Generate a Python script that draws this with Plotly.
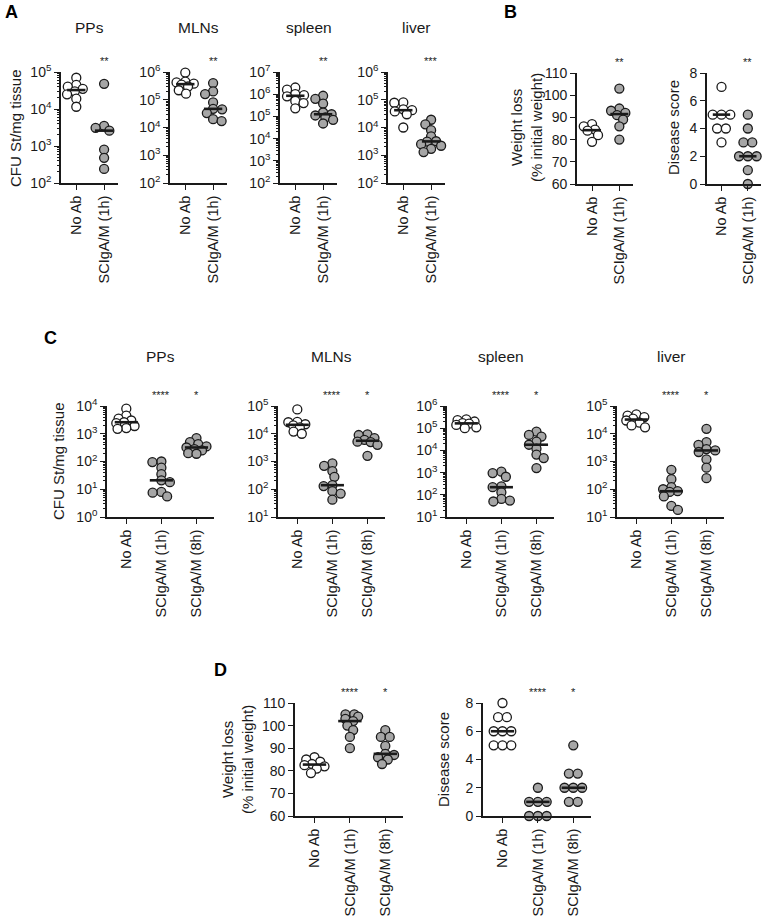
import numpy as np
import plotly.graph_objects as go

FIG_W, FIG_H = 765, 918
FONT = "Liberation Sans, Arial, sans-serif"
INK = "#1a1a1a"
GREY = "#a6a6a6"

cats2 = ["No Ab", "SCIgA/M (1h)"]
cats3 = ["No Ab", "SCIgA/M (1h)", "SCIgA/M (8h)"]

# ---------------- Panel A (CFU St/mg tissue) ----------------
a_pps_noab = [70000, 45000, 40000, 35000, 30000, 25000, 19000, 11500]
a_pps_sc1 = [48000, 3500, 3100, 2600, 800, 480, 240]
a_mln_noab = [950000, 450000, 420000, 380000, 350000, 300000, 220000, 165000]
a_mln_sc1 = [400000, 200000, 160000, 80000, 47000, 45000, 33000, 20000, 17000]
a_spl_noab = [2000000, 1600000, 1000000, 900000, 800000, 500000, 400000, 230000]
a_spl_sc1 = [850000, 620000, 380000, 150000, 125000, 110000, 90000, 70000, 48000]
a_liv_noab = [80000, 78000, 45000, 42000, 38000, 30000, 10000]
a_liv_sc1 = [19000, 13000, 8000, 4800, 3200, 3100, 2500, 2200, 1700, 1300]

# ---------------- Panel B ----------------
b_wt_noab = [87, 86, 84.5, 84, 82, 79]
b_wt_sc1 = [103, 94, 93, 92, 91, 89, 86, 80]
b_ds_noab = [7, 5, 5, 5, 4, 4, 3]
b_ds_sc1 = [5, 4, 3, 3, 2, 2, 2, 1, 0]

# ---------------- Panel C (CFU St/mg tissue) ----------------
c_pps_noab = [8000, 4500, 3500, 3000, 2600, 2400, 1900, 1600, 1500]
c_pps_sc1 = [100, 95, 60, 35, 21, 18, 8, 7.5, 5.5]
c_pps_sc8 = [700, 500, 420, 350, 320, 280, 250, 200, 190]
c_mln_noab = [75000, 27000, 26000, 22000, 20000, 17000, 12000, 10000]
c_mln_sc1 = [850, 700, 450, 280, 140, 130, 85, 70, 42]
c_mln_sc8 = [9500, 9000, 7000, 6000, 5200, 5000, 4000, 1600]
c_spl_noab = [250000, 230000, 200000, 170000, 160000, 140000, 110000, 100000]
c_spl_sc1 = [1100, 950, 650, 240, 220, 130, 65, 55, 50]
c_spl_sc8 = [70000, 50000, 42000, 25000, 18000, 12000, 6500, 4500, 1600]
c_liv_noab = [50000, 45000, 40000, 35000, 30000, 25000, 20000, 17000]
c_liv_sc1 = [500, 230, 120, 100, 85, 80, 55, 25, 18]
c_liv_sc8 = [15000, 5000, 4000, 2800, 2500, 2200, 1200, 600, 250]

# ---------------- Panel D ----------------
d_wt_noab = [86, 85, 84, 83, 82.5, 82, 81, 79]
d_wt_sc1 = [105, 105, 104, 103, 102, 100, 98, 95, 90]
d_wt_sc8 = [98, 95, 95, 91, 87.5, 87, 86, 85, 83]
d_ds_noab = [8, 7, 7, 6, 6, 6, 5, 5, 5]
d_ds_sc1 = [2, 1, 1, 1, 0, 0, 0]
d_ds_sc8 = [5, 3, 3, 2, 2, 2, 1, 1]

stars_A = ["", "**"]
stars_A_liver = ["", "***"]
stars_C = ["", "****", "*"]

CFU = "CFU St/mg tissue"
WEIGHT = "Weight loss<br>(% initial weight)"
DISEASE = "Disease score"

# layout specs (pixel geometry in the window): left, width, top, bottom
panels = [
    dict(left=61, w=57, top=72, bottom=183, log=True, rng=(2, 5), cats=cats2,
         data=[a_pps_noab, a_pps_sc1], stars=stars_A, title="PPs"),
    dict(left=170, w=57, top=72, bottom=183, log=True, rng=(2, 6), cats=cats2,
         data=[a_mln_noab, a_mln_sc1], stars=stars_A, title="MLNs"),
    dict(left=280, w=57, top=72, bottom=183, log=True, rng=(2, 7), cats=cats2,
         data=[a_spl_noab, a_spl_sc1], stars=stars_A, title="spleen"),
    dict(left=388, w=57, top=72, bottom=183, log=True, rng=(2, 6), cats=cats2,
         data=[a_liv_noab, a_liv_sc1], stars=stars_A_liver, title="liver"),
    dict(left=577, w=56, top=73, bottom=184, log=False, rng=(60, 110), dtick=10, cats=cats2,
         data=[b_wt_noab, b_wt_sc1], stars=stars_A, title=""),
    dict(left=707, w=54, top=73, bottom=184, log=False, rng=(0, 8), dtick=2, cats=cats2,
         data=[b_ds_noab, b_ds_sc1], stars=stars_A, title=""),
    dict(left=107, w=107, top=406, bottom=517, log=True, rng=(0, 4), cats=cats3,
         data=[c_pps_noab, c_pps_sc1, c_pps_sc8], stars=stars_C, title="PPs"),
    dict(left=278, w=107, top=406, bottom=517, log=True, rng=(1, 5), cats=cats3,
         data=[c_mln_noab, c_mln_sc1, c_mln_sc8], stars=stars_C, title="MLNs"),
    dict(left=447, w=107, top=406, bottom=517, log=True, rng=(1, 6), cats=cats3,
         data=[c_spl_noab, c_spl_sc1, c_spl_sc8], stars=stars_C, title="spleen"),
    dict(left=617, w=107, top=406, bottom=517, log=True, rng=(1, 5), cats=cats3,
         data=[c_liv_noab, c_liv_sc1, c_liv_sc8], stars=stars_C, title="liver"),
    dict(left=295, w=108, top=703, bottom=816, log=False, rng=(60, 110), dtick=10, cats=cats3,
         data=[d_wt_noab, d_wt_sc1, d_wt_sc8], stars=stars_C, title=""),
    dict(left=483, w=108, top=703, bottom=816, log=False, rng=(0, 8), dtick=2, cats=cats3,
         data=[d_ds_noab, d_ds_sc1, d_ds_sc8], stars=stars_C, title=""),
]

XL, XR_PAD = -0.55, 0.5
SWARM_D = 8.8      # px: spacing of tied points
SWARM_K = 1.5      # vertical weight: points a few px apart may overlap a little
SWARM_MAX = 10.0   # px: points never spread further than this from the column centre
MED_HALF = 0.33


def px(x):
    return x / FIG_W


def py(y):
    return 1 - y / FIG_H


def swarm_offsets(ypix):
    """Beeswarm with alternating sides, capped width; tied values form a centred row."""
    n = len(ypix)
    offs = np.zeros(n)
    placed = []
    last_sign = 1.0
    step = 0.25
    kmax = int(SWARM_MAX / step)
    for idx in range(n):
        yv = ypix[idx]
        best_c, best_d = 0.0, -1.0
        chosen = None
        for k in range(kmax + 1):
            cands = [0.0] if k == 0 else [-last_sign * k * step, last_sign * k * step]
            for c in cands:
                dmin = min((np.hypot(c - ox, SWARM_K * (yv - oy)) for ox, oy in placed),
                           default=1e9)
                if dmin >= SWARM_D - 1e-9:
                    chosen = c
                    break
                if dmin > best_d + 1e-9:
                    best_c, best_d = c, dmin
            if chosen is not None:
                break
        if chosen is None:
            chosen = best_c
        offs[idx] = chosen
        placed.append((chosen, yv))
        if chosen != 0:
            last_sign = np.sign(chosen)
    # centre exact ties symmetrically around the column
    for val in np.unique(np.round(ypix, 6)):
        sel = np.where(np.isclose(ypix, val))[0]
        if len(sel) > 1:
            m = len(sel)
            for j, idx in enumerate(sel):
                offs[idx] = (j - (m - 1) / 2) * SWARM_D
    return offs


fig = go.Figure()
layout = dict(width=FIG_W, height=FIG_H, margin=dict(l=0, r=0, t=0, b=0, autoexpand=False),
              paper_bgcolor="white", plot_bgcolor="white", showlegend=False,
              font=dict(family=FONT, color=INK), annotations=[])

for i, p in enumerate(panels):
    n = i + 1
    xa = "x" if n == 1 else f"x{n}"
    ya = "y" if n == 1 else f"y{n}"
    ncat = len(p["cats"])
    xr0, xr1 = XL, ncat - 1 + XR_PAD
    unit_px = p["w"] / (xr1 - xr0)
    right_px = min(p["left"] + p["w"], FIG_W)
    xr1 = xr0 + (right_px - p["left"]) / unit_px
    H = p["bottom"] - p["top"]
    lo, hi = p["rng"]
    for ci, vals in enumerate(p["data"]):
        vals = np.asarray(vals, dtype=float)
        t = np.log10(vals) if p["log"] else vals
        ypix = (t - lo) / (hi - lo) * H
        offs = swarm_offsets(ypix) / unit_px
        fig.add_trace(go.Scatter(
            x=ci + offs, y=vals, mode="markers", xaxis=xa, yaxis=ya, cliponaxis=False,
            marker=dict(size=9, color="white" if ci == 0 else GREY,
                        line=dict(color=INK, width=1.3)),
            hoverinfo="skip"))
        med = float(np.median(vals))
        fig.add_trace(go.Scatter(
            x=[ci - MED_HALF, ci + MED_HALF], y=[med, med], mode="lines",
            xaxis=xa, yaxis=ya, cliponaxis=False,
            line=dict(color=INK, width=2.6), hoverinfo="skip"))
        if p["stars"][ci]:
            layout["annotations"].append(dict(
                x=px(p["left"] + (ci - xr0) * unit_px), y=py(p["top"] - 11),
                xref="paper", yref="paper", text=p["stars"][ci], showarrow=False,
                font=dict(size=11, family=FONT, color=INK), xanchor="center", yanchor="middle"))
    xkey = "xaxis" if n == 1 else f"xaxis{n}"
    ykey = "yaxis" if n == 1 else f"yaxis{n}"
    layout[xkey] = dict(
        domain=[px(p["left"]), px(right_px)], anchor=ya, range=[xr0, xr1],
        automargin=False,
        showgrid=False, zeroline=False, showline=True, linecolor=INK, linewidth=1.6,
        ticks="outside", ticklen=5, tickwidth=1.4, tickcolor=INK,
        tickvals=list(range(ncat)), ticktext=p["cats"], tickangle=-90,
        tickfont=dict(size=14.5, family=FONT, color=INK), fixedrange=True)
    ydict = dict(
        domain=[py(p["bottom"]), py(p["top"])], anchor=xa, automargin=False,
        showgrid=False, zeroline=False, showline=True, linecolor=INK, linewidth=1.6,
        ticks="outside", ticklen=5, tickwidth=1.4, tickcolor=INK,
        tickfont=dict(size=14, family=FONT, color=INK), fixedrange=True)
    if p["log"]:
        ydict.update(type="log", range=[lo, hi],
                     tickvals=[10 ** k for k in range(lo, hi + 1)],
                     ticktext=[f"10<sup>{k}</sup>" for k in range(lo, hi + 1)],
                     minor=dict(ticks="outside", ticklen=2.5, tickwidth=1, tickcolor=INK,
                                dtick="D1", showgrid=False))
    else:
        ydict.update(range=[lo, hi], dtick=p["dtick"], tick0=lo)
    layout[ykey] = ydict
    if p["title"]:
        tx = p["left"] + p["w"] / 2
        ty = 28 if p["top"] < 200 else 357
        layout["annotations"].append(dict(
            x=px(tx), y=py(ty), xref="paper", yref="paper", text=p["title"],
            showarrow=False, font=dict(size=15.5, family=FONT, color=INK),
            xanchor="center", yanchor="middle"))

# y-axis titles
ytitles = [(16, 128, CFU), (527, 128, WEIGHT), (674, 128, DISEASE),
           (58, 461, CFU), (237, 760, WEIGHT), (443, 760, DISEASE)]
for x, y, txt in ytitles:
    layout["annotations"].append(dict(
        x=px(x), y=py(y), xref="paper", yref="paper", text=txt, textangle=-90,
        showarrow=False, font=dict(size=15, family=FONT, color=INK),
        xanchor="center", yanchor="middle"))

# panel letters
for x, y, txt in [(11, 12, "A"), (510, 12, "B"), (50, 338, "C"), (221, 670, "D")]:
    layout["annotations"].append(dict(
        x=px(x), y=py(y), xref="paper", yref="paper", text=f"<b>{txt}</b>",
        showarrow=False, font=dict(size=18, family=FONT, color="black"),
        xanchor="center", yanchor="middle"))

fig.update_layout(**layout)
fig.write_html(
    "out.html",
    config={"displayModeBar": False},
    post_script="document.body.style.margin='0';document.body.style.overflow='hidden';",
)
